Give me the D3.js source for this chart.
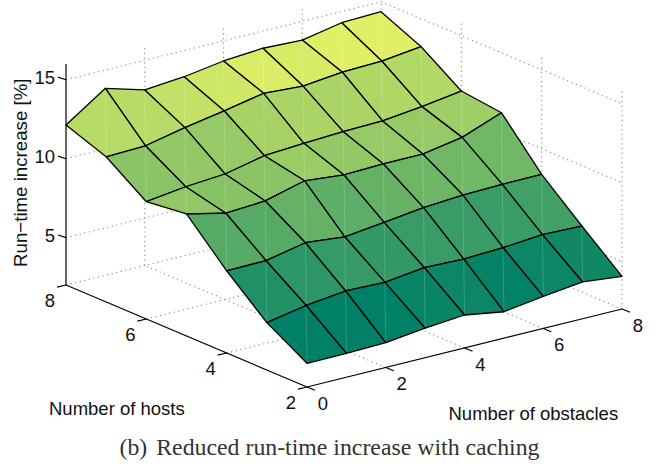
<!DOCTYPE html>
<html>
<head>
<meta charset="utf-8">
<script src="https://cdn.jsdelivr.net/npm/d3@7"></script>
<style>
	html, body { margin: 0; padding: 0; background: #fff; }
	svg { display: block; }
	text { font-family: "Liberation Sans", sans-serif; fill: #111; }
</style>
</head>
<body>
<svg width="664" height="464"></svg>
<script>
	var obstacles = [0, 1, 2, 3, 4, 5, 6, 7, 8];
	var hosts = [2, 3, 4, 5, 6, 7, 8];

	// run-time increase [%], one row per host count
	var hosts2 = [3.50, 3.52, 3.57, 3.87, 4.09, 3.68, 4.04, 4.33, 4.07];
	var hosts3 = [5.00, 5.47, 5.77, 5.70, 6.01, 5.94, 6.04, 6.25, 6.18];
	var hosts4 = [7.21, 7.23, 7.75, 7.51, 7.80, 8.12, 8.30, 8.36, 8.38];
	var hosts5 = [9.73, 9.16, 9.32, 9.98, 9.73, 9.81, 9.82, 10.26, 11.20];
	var hosts6 = [9.43, 9.76, 9.95, 10.49, 10.66, 10.78, 10.84, 11.13, 11.50];
	var hosts7 = [11.20, 11.28, 11.81, 12.25, 12.75, 12.59, 12.85, 12.94, 13.23];
	var hosts8 = [12.14, 13.84, 13.12, 13.34, 13.72, 13.91, 13.81, 14.29, 14.37];
	var increase = [hosts2, hosts3, hosts4, hosts5, hosts6, hosts7, hosts8];

	var obstacleTicks = [0, 2, 4, 6, 8];
	var hostTicks = [2, 4, 6, 8];
	var increaseTicks = [5, 10, 15];

	var svg = d3.select("svg");

	// orthographic view
	var origin = [307, 387];
	var xScale = d3.scaleLinear().domain([0, 8]).range([0, 1]);
	var yScale = d3.scaleLinear().domain([2, 8]).range([0, 1]);
	var zScale = d3.scaleLinear().domain([2, 16]).range([0, 221]);

	function project(x, y, z) {
		return [
			origin[0] + 315 * xScale(x) - 241 * yScale(y),
			origin[1] - 78 * xScale(x) - 102 * yScale(y) - zScale(z)
		];
	}

	// matlab "summer" colormap, 64 steps
	var flat = d3.merge(increase);
	var level = d3.scaleQuantize().domain(d3.extent(flat)).range(d3.range(64));
	function summer(z) {
		var r = level(z) / 63;
		return d3.rgb(r * 255, (0.5 + r / 2) * 255, 102).formatHex();
	}

	var line = d3.line();

	function segment(g, a, b) {
		g.append("line")
			.attr("x1", a[0]).attr("y1", a[1])
			.attr("x2", b[0]).attr("y2", b[1]);
	}

	// dotted grid on the floor and the two walls
	var grid = svg.append("g")
		.attr("fill", "none")
		.attr("stroke", "#8a8a8a")
		.attr("stroke-width", 1.1)
		.attr("stroke-dasharray", "1.2 3.5");

	obstacleTicks.forEach(function(x) {
		if (x > 0) segment(grid, project(x, 2, 2), project(x, 8, 2));
		if (x > 0) segment(grid, project(x, 8, 2), project(x, 8, 16));
	});
	hostTicks.forEach(function(y) {
		if (y > 2) segment(grid, project(0, y, 2), project(8, y, 2));
		if (y < 8) segment(grid, project(8, y, 2), project(8, y, 16));
	});
	increaseTicks.forEach(function(z) {
		segment(grid, project(0, 8, z), project(8, 8, z));
		segment(grid, project(8, 8, z), project(8, 2, z));
	});

	// axes
	var axes = svg.append("g")
		.attr("stroke", "#000")
		.attr("stroke-width", 1.2);

	segment(axes, project(0, 2, 2), project(8, 2, 2));
	segment(axes, project(0, 2, 2), project(0, 8, 2));
	segment(axes, project(0, 8, 2), project(0, 8, 16));

	obstacleTicks.forEach(function(x) {
		var p = project(x, 2, 2);
		segment(axes, p, [p[0] + 8, p[1] + 3.2]);
		svg.append("text")
			.attr("x", p[0] + 16).attr("y", p[1] + 16)
			.attr("dy", "0.36em")
			.attr("text-anchor", "middle")
			.attr("font-size", 18.5)
			.text(x);
	});
	hostTicks.forEach(function(y) {
		var p = project(0, y, 2);
		segment(axes, p, [p[0] - 9, p[1] + 2.2]);
		svg.append("text")
			.attr("x", p[0] - 16).attr("y", p[1] + 15)
			.attr("dy", "0.36em")
			.attr("text-anchor", "middle")
			.attr("font-size", 18.5)
			.text(y);
	});
	increaseTicks.forEach(function(z) {
		var p = project(0, 8, z);
		segment(axes, p, [p[0] - 8, p[1] - 2.6]);
		svg.append("text")
			.attr("x", p[0] - 11).attr("y", p[1] - 2)
			.attr("dy", "0.36em")
			.attr("text-anchor", "end")
			.attr("font-size", 18.5)
			.text(z);
	});

	// surface, back to front so the nearer faces cover the rest
	var surface = svg.append("g");
	for (var j = hosts.length - 2; j >= 0; j--) {
		for (var i = obstacles.length - 2; i >= 0; i--) {
			var a = project(obstacles[i], hosts[j], increase[j][i]);
			var b = project(obstacles[i + 1], hosts[j], increase[j][i + 1]);
			var c = project(obstacles[i + 1], hosts[j + 1], increase[j + 1][i + 1]);
			var d = project(obstacles[i], hosts[j + 1], increase[j + 1][i]);
			var face = line([a, b, c, d]) + "Z";

			surface.append("path")
				.attr("d", face)
				.attr("fill", summer(increase[j][i]));

			// light seam of the exported quad, it runs between the two triangles
			surface.append("line")
				.attr("x1", a[0]).attr("y1", a[1])
				.attr("x2", c[0]).attr("y2", c[1])
				.attr("stroke", "#fff")
				.attr("stroke-opacity", 0.2)
				.attr("stroke-width", 0.9);

			surface.append("path")
				.attr("d", face)
				.attr("fill", "none")
				.attr("stroke", "#000")
				.attr("stroke-width", 1.3)
				.attr("stroke-linejoin", "round");
		}
	}

	svg.append("text")
		.attr("x", 49).attr("y", 414.7)
		.attr("font-size", 18.5)
		.text("Number of hosts");
	svg.append("text")
		.attr("x", 448.5).attr("y", 420.3)
		.attr("font-size", 18.5)
		.text("Number of obstacles");
	svg.append("text")
		.attr("transform", "translate(26.5,267) rotate(-90)")
		.attr("font-size", 18.7)
		.text("Run\u2212time increase [%]");

	var caption = svg.append("text")
		.attr("x", 119.5).attr("y", 454.7)
		.attr("font-size", 23.8)
		.style("font-family", "'Liberation Serif', serif")
		.style("fill", "#333");
	caption.append("tspan").style("fill", "#333").text("(b)");
	caption.append("tspan").attr("dx", 9).style("fill", "#333").text("Reduced run-time increase with caching");
</script>
</body>
</html>
